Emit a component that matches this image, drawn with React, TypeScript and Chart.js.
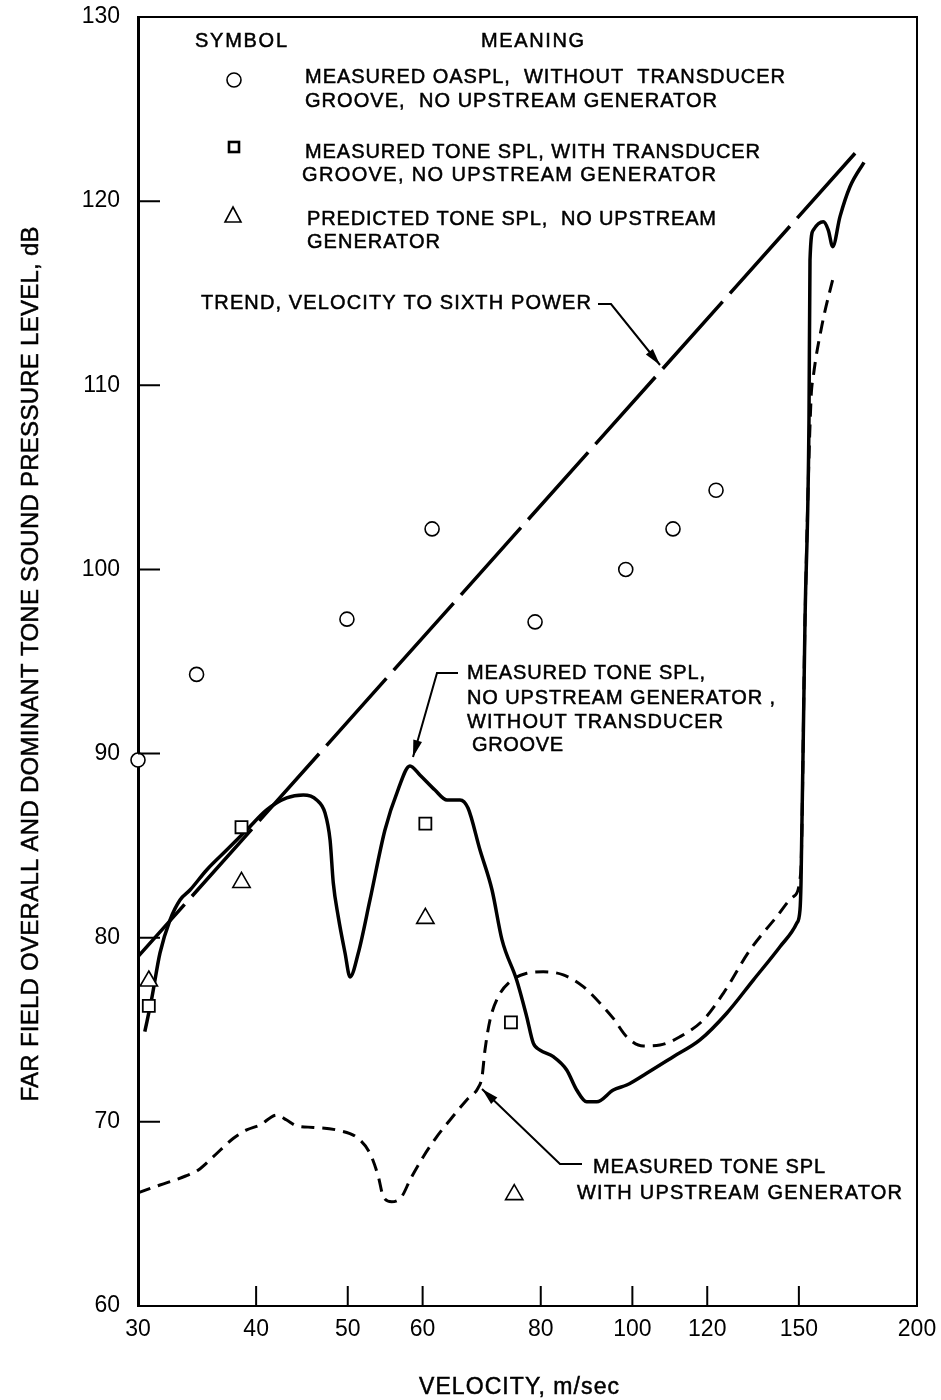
import { useEffect, useRef } from 'react';
import { Chart, registerables } from 'chart.js';

Chart.register(...registerables);

// ---------- data ----------
const X_TICKS = [30, 40, 50, 60, 80, 100, 120, 150, 200];
const Y_TICKS = [60, 70, 80, 90, 100, 110, 120, 130];

// Measured OASPL, without transducer groove, no upstream generator (circles)
const oasplV = [30, 34.6, 49.9, 61.4, 78.9, 98.4, 110.4, 122.6];
const oasplDb = [89.65, 94.3, 97.3, 102.2, 97.15, 100.0, 102.2, 104.3];

// Measured tone SPL, with transducer groove (squares)
const grooveV = [30.8, 38.6, 60.4, 74.4];
const grooveDb = [76.3, 86.0, 86.2, 75.4];

// Predicted tone SPL (triangles)
const predV = [30.8, 38.6, 60.4, 75.0];
const predDb = [77.65, 83.0, 81.05, 66.05];

// Trend, velocity to sixth power
const trendV = [30, 172];
const trendDb = [78.97, 122.6];

// Measured tone SPL, no upstream generator, without transducer groove (solid)
const solidV = [30.5, 31.0, 31.65, 32.43, 33.23, 34.05, 35.46, 37.23, 39.09, 41.04, 43.09, 44.87, 46.36, 47.31, 47.89, 48.27, 48.86, 49.67, 50.28, 51.3, 52.78, 54.74, 56.5, 58.18, 59.6, 61.83, 63.67, 65.72, 67.01, 69.0, 71.05, 72.8, 75.44, 77.31, 78.56, 79.85, 82.49, 85.22, 87.32, 89.47, 91.68, 95.46, 98.63, 103.54, 110.48, 117.89, 125.82, 134.24, 143.26, 149.21, 150.41, 150.78, 152.26, 153.74, 154.12, 155.36, 159.2, 161.14, 162.88, 165.8, 169.88, 175.78];
const solidDb = [74.9, 76.62, 79.17, 80.96, 82.05, 82.59, 83.68, 84.76, 85.85, 86.94, 87.59, 87.75, 87.48, 86.77, 85.31, 82.97, 81.13, 79.17, 77.87, 79.17, 82.05, 85.85, 88.02, 89.33, 88.84, 88.02, 87.48, 87.48, 87.04, 84.76, 82.59, 79.88, 77.7, 75.71, 74.27, 73.9, 73.54, 72.82, 71.73, 71.09, 71.09, 71.73, 72.0, 72.64, 73.54, 74.45, 75.9, 77.7, 79.51, 80.78, 81.51, 82.97, 97.25, 108.12, 116.8, 118.43, 118.88, 118.43, 117.53, 119.16, 120.78, 122.11];

// Measured tone SPL with upstream generator (dashed)
const dashV = [30, 31.65, 33.69, 34.75, 36.04, 37.85, 39.09, 40.38, 42.05, 43.09, 44.16, 45.98, 49.07, 51.1, 52.78, 53.87, 54.52, 55.64, 57.02, 58.18, 60.1, 62.09, 64.14, 66.8, 68.67, 69.34, 69.84, 70.7, 72.14, 74.23, 77.31, 80.5, 84.52, 88.74, 93.16, 95.46, 98.63, 102.69, 106.95, 112.27, 118.84, 124.79, 133.16, 142.11, 147.98, 150.67, 152.26, 154.49, 155.36, 158.69, 163.49];
const dashDb = [66.15, 66.57, 67.06, 67.39, 68.11, 69.11, 69.56, 69.83, 70.37, 70.1, 69.78, 69.7, 69.52, 69.16, 68.29, 67.02, 65.94, 65.66, 65.94, 66.84, 68.11, 69.19, 70.1, 71.19, 71.84, 72.45, 73.9, 75.53, 76.8, 77.61, 78.07, 78.15, 77.98, 77.34, 76.25, 75.62, 74.62, 74.12, 74.17, 74.62, 75.53, 76.98, 79.33, 81.14, 82.23, 83.5, 97.25, 109.2, 110.47, 113.27, 116.08];

const zip = (xs: number[], ys: number[]) => xs.map((x, i) => ({ x, y: ys[i] }));

const FONT = '"Liberation Sans", Arial, Helvetica, sans-serif';

function drawText(ctx: CanvasRenderingContext2D, s: string, x: number, y: number, size: number, targetW?: number, align: CanvasTextAlign = 'left') {
  ctx.save();
  ctx.font = `${size}px ${FONT}`;
  ctx.fillStyle = '#000';
  ctx.strokeStyle = '#000';
  ctx.lineWidth = 0.5;
  ctx.textBaseline = 'middle';
  ctx.textAlign = align;
  const w = ctx.measureText(s).width;
  if (targetW && s.length > 1) {
    const ls = (targetW - w) / (s.length - 1);
    if ('letterSpacing' in ctx) {
      (ctx as any).letterSpacing = `${ls}px`;
      const px = align === 'center' ? x + ls / 2 : x;
      ctx.fillText(s, px, y);
      ctx.strokeText(s, px, y);
    } else {
      ctx.translate(x, y);
      ctx.scale(targetW / w, 1);
      ctx.fillText(s, 0, 0);
      ctx.strokeText(s, 0, 0);
    }
  } else {
    ctx.fillText(s, x, y);
    ctx.strokeText(s, x, y);
  }
  ctx.restore();
}

function arrow(ctx: CanvasRenderingContext2D, pts: number[][]) {
  ctx.save();
  ctx.strokeStyle = '#000';
  ctx.fillStyle = '#000';
  ctx.lineWidth = 2;
  ctx.beginPath();
  ctx.moveTo(pts[0][0], pts[0][1]);
  for (let i = 1; i < pts.length; i++) ctx.lineTo(pts[i][0], pts[i][1]);
  ctx.stroke();
  const [x2, y2] = pts[pts.length - 1];
  const [x1, y1] = pts[pts.length - 2];
  const a = Math.atan2(y2 - y1, x2 - x1);
  const L = 17, W = 4.5;
  ctx.beginPath();
  ctx.moveTo(x2, y2);
  ctx.lineTo(x2 - L * Math.cos(a) + W * Math.sin(a), y2 - L * Math.sin(a) - W * Math.cos(a));
  ctx.lineTo(x2 - L * Math.cos(a) - W * Math.sin(a), y2 - L * Math.sin(a) + W * Math.cos(a));
  ctx.closePath();
  ctx.fill();
  ctx.restore();
}

const decor = {
  id: 'decor',
  afterDraw(chart: any) {
    const { ctx, chartArea } = chart;
    const { left, right, top, bottom } = chartArea;
    const xs = chart.scales.x;
    const ys = chart.scales.y;
    ctx.save();
    ctx.strokeStyle = '#000';
    ctx.lineWidth = 2;
    ctx.beginPath();
    ctx.moveTo(left, top);
    ctx.lineTo(right, top);
    ctx.lineTo(right, bottom);
    ctx.stroke();
    // inward ticks
    ctx.beginPath();
    Y_TICKS.forEach((v) => {
      if (v === 60 || v === 130) return;
      const py = ys.getPixelForValue(v);
      ctx.moveTo(left, py);
      ctx.lineTo(left + 22, py);
    });
    X_TICKS.forEach((v) => {
      if (v === 30 || v === 200) return;
      const px = xs.getPixelForValue(v);
      ctx.moveTo(px, bottom);
      ctx.lineTo(px, bottom - 20);
    });
    ctx.stroke();
    ctx.restore();

    // legend table
    const S = 20;
    drawText(ctx, 'SYMBOL', 195, 41, S, 92);
    drawText(ctx, 'MEANING', 481, 41, S, 103);
    ctx.save();
    ctx.strokeStyle = '#000';
    ctx.lineWidth = 1.6;
    ctx.beginPath();
    ctx.arc(234, 80, 7, 0, Math.PI * 2);
    ctx.stroke();
    ctx.lineWidth = 2.6;
    ctx.strokeRect(229, 142, 10, 10);
    ctx.lineWidth = 1.6;
    ctx.beginPath();
    ctx.moveTo(233, 207);
    ctx.lineTo(241, 222);
    ctx.lineTo(225, 222);
    ctx.closePath();
    ctx.stroke();
    ctx.restore();
    drawText(ctx, 'MEASURED OASPL,  WITHOUT  TRANSDUCER', 305, 77, S, 480);
    drawText(ctx, 'GROOVE,  NO UPSTREAM GENERATOR', 305, 101, S, 412);
    drawText(ctx, 'MEASURED TONE SPL, WITH TRANSDUCER', 305, 152, S, 455);
    drawText(ctx, 'GROOVE, NO UPSTREAM GENERATOR', 302, 175, S, 414);
    drawText(ctx, 'PREDICTED TONE SPL,  NO UPSTREAM', 307, 219, S, 409);
    drawText(ctx, 'GENERATOR', 307, 242, S, 133);

    // annotations
    drawText(ctx, 'TREND, VELOCITY TO SIXTH POWER', 201, 303, S, 390);
    arrow(ctx, [[598, 304], [611, 304], [660, 365]]);

    drawText(ctx, 'MEASURED TONE SPL,', 467, 673, S, 238);
    drawText(ctx, 'NO UPSTREAM GENERATOR ,', 467, 698, S, 308);
    drawText(ctx, 'WITHOUT TRANSDUCER', 467, 722, S, 256);
    drawText(ctx, 'GROOVE', 472, 745, S, 91);
    arrow(ctx, [[458, 673], [437, 673], [413, 757]]);

    drawText(ctx, 'MEASURED TONE SPL', 593, 1167, S, 232);
    drawText(ctx, 'WITH UPSTREAM GENERATOR', 577, 1193, S, 325);
    arrow(ctx, [[582, 1164], [560, 1164], [482, 1089]]);

    // axis titles
    drawText(ctx, 'VELOCITY, m/sec', 519, 1388, 23, 200, 'center');
    ctx.save();
    ctx.translate(31, 664);
    ctx.rotate(-Math.PI / 2);
    drawText(ctx, 'FAR FIELD OVERALL AND DOMINANT TONE SOUND PRESSURE LEVEL, dB', 0, 0, 24, 875, 'center');
    ctx.restore();
  },
};

export default function App() {
  const ref = useRef<HTMLCanvasElement | null>(null);
  useEffect(() => {
    if (!ref.current) return;
    const pts = { pointRadius: 0, pointHoverRadius: 0 };
    const chart = new Chart(ref.current, {
      type: 'scatter',
      data: {
        datasets: [
          {
            label: 'Measured OASPL',
            data: zip(oasplV, oasplDb),
            pointStyle: 'circle',
            pointRadius: 7,
            borderWidth: 1.6,
            borderColor: '#000',
            backgroundColor: '#fff',
            clip: false,
          } as any,
          {
            label: 'Measured tone SPL, with groove',
            data: zip(grooveV, grooveDb),
            pointStyle: 'rect',
            pointRadius: 8.5,
            borderWidth: 1.8,
            borderColor: '#000',
            backgroundColor: '#fff',
            clip: false,
          },
          {
            label: 'Predicted tone SPL',
            data: zip(predV, predDb),
            pointStyle: 'triangle',
            pointRadius: 10,
            borderWidth: 1.6,
            borderColor: '#000',
            backgroundColor: '#fff',
            clip: false,
          },
          {
            type: 'line',
            label: 'Solid',
            data: zip(solidV, solidDb),
            borderColor: '#000',
            borderWidth: 3.5,
            cubicInterpolationMode: 'monotone',
            showLine: true,
            ...pts,
          } as any,
          {
            type: 'line',
            label: 'Dashed',
            data: zip(dashV, dashDb),
            borderColor: '#000',
            borderWidth: 3,
            borderDash: [13, 8],
            cubicInterpolationMode: 'monotone',
            showLine: true,
            ...pts,
          } as any,
          {
            type: 'line',
            label: 'Trend',
            data: zip(trendV, trendDb),
            borderColor: '#000',
            borderWidth: 3.5,
            borderDash: [90, 11],
            borderDashOffset: 20,
            showLine: true,
            ...pts,
          } as any,
        ],
      },
      options: {
        responsive: false,
        animation: false,
        devicePixelRatio: 1,
        layout: { padding: { left: 0, right: 24, top: 17, bottom: 0 } },
        plugins: { legend: { display: false }, tooltip: { enabled: false } },
        events: [],
        scales: {
          x: {
            type: 'logarithmic',
            min: 30,
            max: 200,
            afterBuildTicks: (s: any) => {
              s.ticks = X_TICKS.map((v) => ({ value: v }));
            },
            afterFit: (s: any) => {
              s.height = 94;
              s.paddingLeft = 0;
              s.paddingRight = 0;
              s.paddingTop = 0;
              s.paddingBottom = 0;
            },
            grid: { display: false, drawTicks: false },
            border: { display: true, color: '#000', width: 2 },
            ticks: {
              autoSkip: false,
              maxRotation: 0,
              padding: 10,
              color: '#000',
              font: { family: FONT, size: 23 },
              callback: (v: any) => String(v),
            },
          },
          y: {
            type: 'linear',
            min: 60,
            max: 130,
            afterBuildTicks: (s: any) => {
              s.ticks = Y_TICKS.map((v) => ({ value: v }));
            },
            afterFit: (s: any) => {
              s.width = 138;
              s.paddingLeft = 0;
              s.paddingRight = 0;
              s.paddingTop = 0;
              s.paddingBottom = 0;
            },
            grid: { display: false, drawTicks: false },
            border: { display: true, color: '#000', width: 3 },
            ticks: {
              padding: 18,
              color: '#000',
              font: { family: FONT, size: 23 },
              callback: (v: any) => String(v),
            },
          },
        },
      },
      plugins: [decor],
    });
    return () => chart.destroy();
  }, []);
  return (
    <div style={{ position: 'absolute', left: 0, top: 0, width: 941, height: 1400, background: '#fff' }}>
      <canvas ref={ref} width={941} height={1400} />
    </div>
  );
}
